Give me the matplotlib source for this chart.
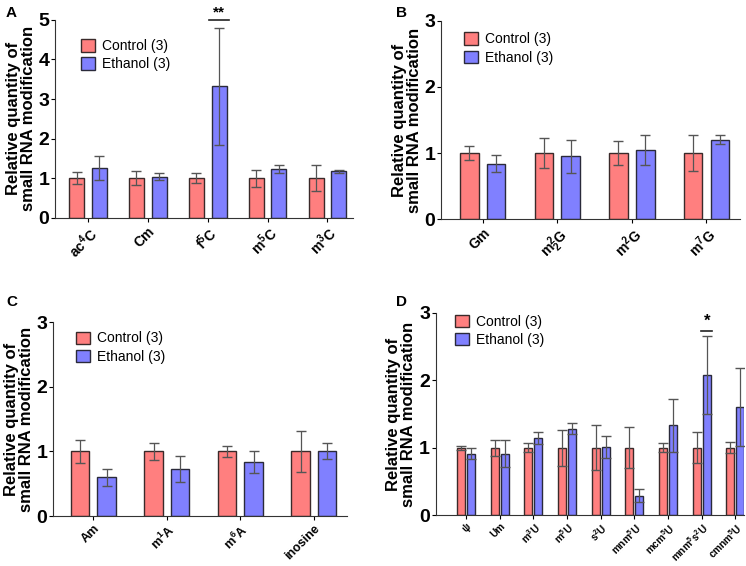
import numpy as np
import matplotlib
matplotlib.use("Agg")
import matplotlib.pyplot as plt

plt.rcParams['font.family'] = ['Liberation Sans', 'DejaVu Sans']
plt.rcParams['font.weight'] = 'bold'
plt.rcParams['mathtext.fontset'] = 'custom'
plt.rcParams['mathtext.rm'] = 'Liberation Sans:bold'
plt.rcParams['mathtext.it'] = 'Liberation Sans:bold'
plt.rcParams['mathtext.bf'] = 'Liberation Sans:bold'

# Panel A: cytidine modifications
labels_a = ['ac$^{4}$C', 'Cm', 'f$^{5}$C', 'm$^{5}$C', 'm$^{3}$C']
ctrl_a = [1.0, 1.0, 1.0, 1.0, 1.0]
ctrl_err_a = [0.15, 0.18, 0.13, 0.22, 0.33]
eth_a = [1.26, 1.04, 3.32, 1.23, 1.18]
eth_err_a = [0.30, 0.09, 1.48, 0.10, 0.04]

# Panel B: guanosine modifications
labels_b = ['Gm', 'm$^{2}_{2}$G', 'm$^{2}$G', 'm$^{7}$G']
ctrl_b = [1.0, 1.0, 1.0, 1.0]
ctrl_err_b = [0.11, 0.23, 0.18, 0.28]
eth_b = [0.84, 0.95, 1.05, 1.20]
eth_err_b = [0.13, 0.25, 0.23, 0.07]

# Panel C: adenosine modifications
labels_c = ['Am', 'm$^{1}$A', 'm$^{6}$A', 'inosine']
ctrl_c = [1.0, 1.0, 1.0, 1.0]
ctrl_err_c = [0.18, 0.13, 0.09, 0.31]
eth_c = [0.60, 0.73, 0.83, 1.01]
eth_err_c = [0.13, 0.20, 0.17, 0.12]

# Panel D: uridine modifications
labels_d = ['ψ', 'Um', 'm$^{3}$U', 'm$^{5}$U', 's$^{2}$U', 'mnm$^{5}$U',
            'mcm$^{5}$U', 'mnm$^{5}$s$^{2}$U', 'cmnm$^{5}$U']
ctrl_d = [1.0, 1.0, 1.0, 1.0, 1.0, 1.0, 1.0, 1.0, 1.0]
ctrl_err_d = [0.03, 0.12, 0.07, 0.27, 0.33, 0.30, 0.07, 0.23, 0.08]
eth_d = [0.91, 0.91, 1.14, 1.28, 1.01, 0.29, 1.33, 2.08, 1.60]
eth_err_d = [0.08, 0.20, 0.09, 0.08, 0.16, 0.09, 0.40, 0.58, 0.58]

red = '#FF7F7F'
blue = '#8080FF'


def draw_panel(ax, labels, ctrl, ctrl_err, eth, eth_err, ymax, width, off,
               xlim, tick_fs=14, lab_fs=10):
    x = np.arange(len(labels))
    ax.bar(x - off, ctrl, width, yerr=ctrl_err, color=red, edgecolor='#3a2a2a',
           linewidth=1, capsize=3.5, error_kw=dict(ecolor='#555555', elinewidth=0.9),
           label='Control (3)')
    ax.bar(x + off, eth, width, yerr=eth_err, color=blue, edgecolor='#2a2a3a',
           linewidth=1, capsize=3.5, error_kw=dict(ecolor='#555555', elinewidth=0.9),
           label='Ethanol (3)')
    ax.set_ylim(0, ymax)
    ax.set_xlim(*xlim)
    ax.set_yticks(range(ymax + 1))
    ax.set_xticks(x)
    ax.set_xticklabels(labels, rotation=45, ha='right', rotation_mode='anchor',
                       fontsize=lab_fs, fontweight='bold')
    for t in ax.get_yticklabels():
        t.set_fontsize(tick_fs)
        t.set_fontweight('bold')
    ax.spines['top'].set_visible(False)
    ax.spines['right'].set_visible(False)
    ax.spines['left'].set_color('#333333')
    ax.spines['bottom'].set_color('#333333')
    ax.tick_params(axis='y', length=3, width=0.8, pad=1)
    ax.tick_params(axis='x', length=3, width=0.8, pad=1.5)
    ax.set_ylabel('Relative quantity of\nsmall RNA modification', fontsize=12,
                  fontweight='bold', labelpad=2, linespacing=1.0)
    return x


def add_legend(ax, bx, by):
    ax.legend(loc='upper left', bbox_to_anchor=(bx, by), frameon=False,
              handlelength=1.0, handleheight=1.0, borderaxespad=0,
              labelspacing=0.3, handletextpad=0.5,
              prop={'weight': 'normal', 'size': 10})


fig = plt.figure(figsize=(7.46, 5.66), dpi=100)

ax_a = fig.add_axes([0.0737, 0.615, 0.399, 0.35])
draw_panel(ax_a, labels_a, ctrl_a, ctrl_err_a, eth_a, eth_err_a, 5, 0.25, 0.19,
           (-0.55, 4.42))
add_legend(ax_a, 0.07, 0.93)
ax_a.plot([2 + 0.19 - 0.16, 2 + 0.19 + 0.16], [5.0, 5.0], color='#222222', lw=1.2,
          clip_on=False)
ax_a.text(2 + 0.19, 5.02, '**', ha='center', va='bottom', fontsize=11,
          fontweight='bold', clip_on=False)

ax_b = fig.add_axes([0.591, 0.613, 0.401, 0.35])
draw_panel(ax_b, labels_b, ctrl_b, ctrl_err_b, eth_b, eth_err_b, 3, 0.25, 0.18,
           (-0.56, 3.45))
add_legend(ax_b, 0.06, 0.97)

ax_c = fig.add_axes([0.071, 0.088, 0.394, 0.343])
draw_panel(ax_c, labels_c, ctrl_c, ctrl_err_c, eth_c, eth_err_c, 3, 0.25, 0.18,
           (-0.55, 3.45), lab_fs=9)
add_legend(ax_c, 0.06, 0.98)

ax_d = fig.add_axes([0.584, 0.090, 0.413, 0.357])
draw_panel(ax_d, labels_d, ctrl_d, ctrl_err_d, eth_d, eth_err_d, 3, 0.24, 0.15,
           (-0.9, 8.25), lab_fs=7.2)
add_legend(ax_d, 0.045, 1.02)
ax_d.plot([7 + 0.15 - 0.16, 7 + 0.15 + 0.16], [2.73, 2.73], color='#222222', lw=1.2)
ax_d.text(7 + 0.15, 2.76, '*', ha='center', va='bottom', fontsize=12,
          fontweight='bold')

for letter, xx, yy in [('A', 0.008, 0.99), ('B', 0.531, 0.99),
                       ('C', 0.008, 0.478), ('D', 0.531, 0.478)]:
    fig.text(xx, yy, letter, fontsize=11, fontweight='bold', ha='left', va='top')

fig.savefig('out.png', dpi=100)
